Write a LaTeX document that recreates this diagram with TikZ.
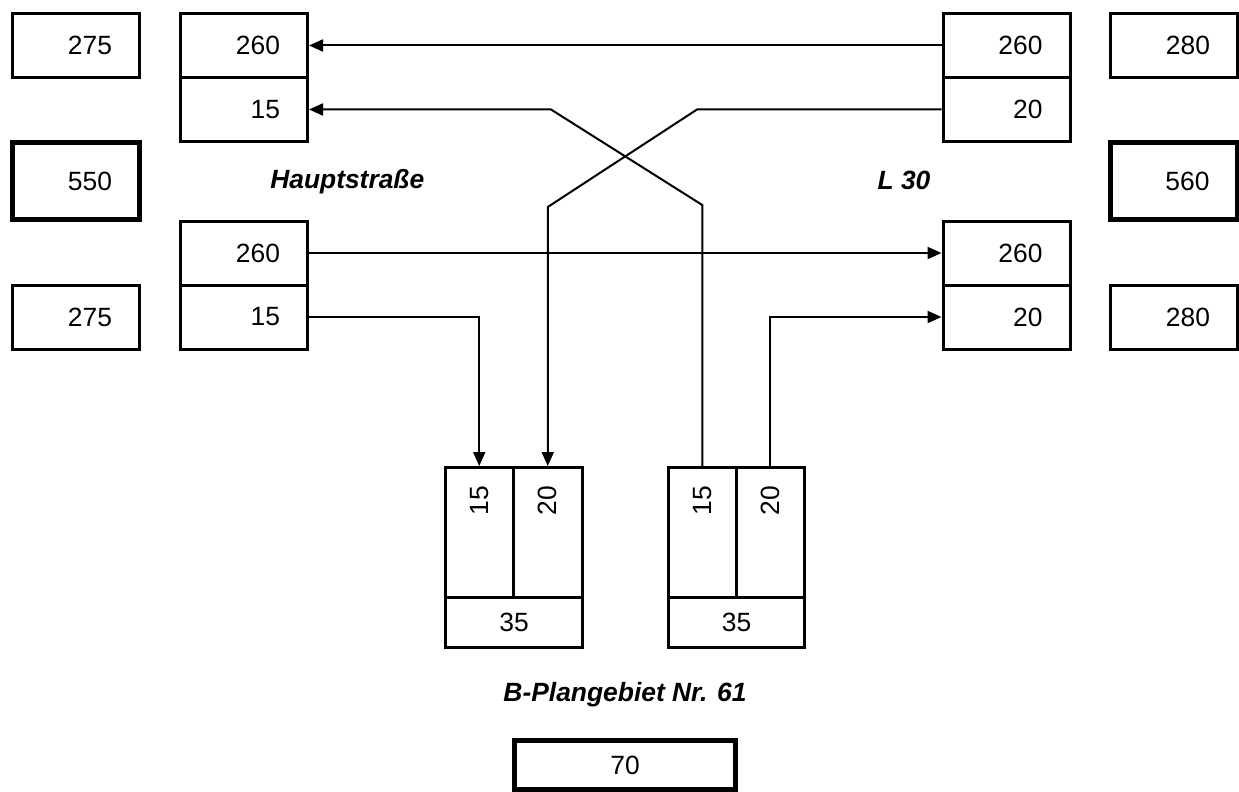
\documentclass[tikz,border=0pt]{standalone}
\usepackage{fontspec}
\setmainfont{Liberation Sans}
\usetikzlibrary{arrows.meta}
\begin{document}
\begin{tikzpicture}[x=0.75pt,y=-0.75pt,
 every node/.style={font=\fontsize{19.8}{23}\selectfont},
 nbox/.style={draw, line width=2.25pt, minimum height=48pt, text width=54pt, inner xsep=20.625pt, inner ysep=0pt, align=right},
 tbox/.style={nbox, line width=3.75pt, minimum height=57.75pt},
 col/.style={draw, line width=2.25pt, inner sep=0pt, minimum height=97.125pt},
 vtxt/.style={rotate=90, anchor=east, inner sep=0pt},
 lbl/.style={font=\fontsize{19.8}{23}\selectfont\bfseries\itshape, inner sep=0pt},
 conn/.style={line width=1.5pt},
 arr/.style={conn, -{Triangle[length=10.5pt,width=9pt]}},
]
\useasboundingbox (0,0) rectangle (1239,792);
% left side
\node[nbox] (L275t) at (76,45.5) {275};
\node[nbox] (L260t) at (244,45.5) {260};
\node[nbox] (L15t) at (244,109.5) {15};
\node[tbox] (L550) at (76,181) {550};
\node[lbl, anchor=west] (HS) at (270,181.5) {Hauptstraße};
\node[nbox] (L260b) at (244,253) {260};
\node[nbox] (L15b) at (244,317) {15};
\node[nbox] (L275b) at (76,317) {275};
% right side
\node[nbox] (R260t) at (1006.5,45.5) {260};
\node[nbox] (R20t) at (1006.5,109.5) {20};
\node[nbox] (R280t) at (1174,45.5) {280};
\node[lbl] (L30) at (904,180) {L 30};
\node[tbox] (R560) at (1173.5,181) {560};
\node[nbox] (R260b) at (1006.5,253) {260};
\node[nbox] (R20b) at (1006.5,317) {20};
\node[nbox] (R280b) at (1174,317) {280};
% bottom boxes
\node[col, minimum width=50.625pt] (B1a) at (479.25,532.25) {};
\node[col, minimum width=52.125pt] (B1b) at (547.75,532.25) {};
\node[col, minimum width=102.75pt, minimum height=37.875pt] (B1c) at (514,622.25) {35};
\node[vtxt] (T1a) at ([yshift=-15pt]B1a.north) {15};
\node[vtxt] (T1b) at ([yshift=-15pt]B1b.north) {20};
\node[col, minimum width=50.625pt] (B2a) at (702.25,532.25) {};
\node[col, minimum width=51.375pt] (B2b) at (770.25,532.25) {};
\node[col, minimum width=102pt, minimum height=37.875pt] (B2c) at (736.5,622.25) {35};
\node[vtxt] (T2a) at ([yshift=-15pt]B2a.north) {15};
\node[vtxt] (T2b) at ([yshift=-15pt]B2b.north) {20};
\node[lbl] (BP) at (625,695) {B-Plangebiet Nr. 61};
\node[draw, line width=3.75pt, minimum width=165.75pt, minimum height=36.75pt, inner sep=0pt] (S70) at (625,765) {70};
% connectors
\draw[arr] (R260t.west) -- (L260t.east);
\draw[arr] (R20t.west) -- (697,109.5) -- (B1b.north |- 0,207) -- (B1b.north);
\draw[arr] (B2a.north) -- (B2a.north |- 0,205) -- (551,109.5) -- (L15t.east);
\draw[arr] (L260b.east) -- (R260b.west);
\draw[arr] (L15b.east) -- (B1a.north |- L15b.east) -- (B1a.north);
\draw[arr] (B2b.north) -- (B2b.north |- R20b.west) -- (R20b.west);
\end{tikzpicture}
\end{document}
